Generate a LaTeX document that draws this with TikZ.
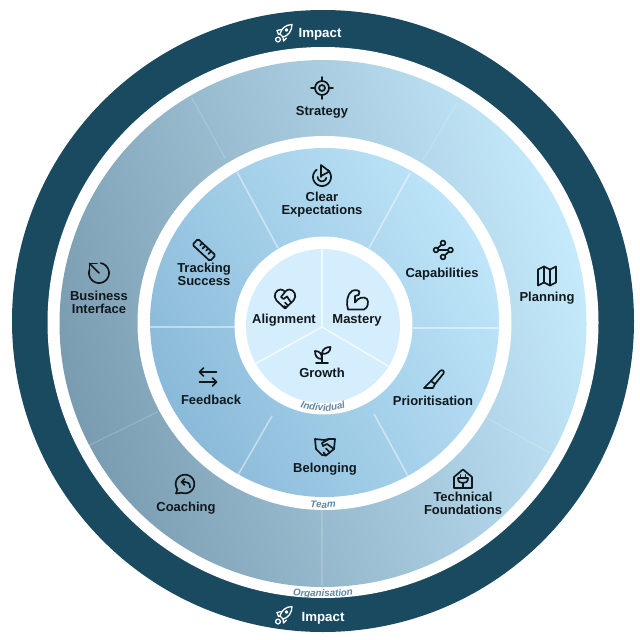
\documentclass[tikz,border=0pt]{standalone}
\usepackage{fontspec}
\usetikzlibrary{decorations.text}
\setmainfont{Liberation Sans}
\definecolor{ringdark}{HTML}{1A4A60}
\definecolor{coreblue}{HTML}{D5EEFD}
\definecolor{tagcol}{HTML}{5F87A3}
\definecolor{inkcol}{HTML}{11181C}
\definecolor{outerlight}{HTML}{C5EAFC}
\definecolor{outerdeep}{HTML}{7A9CB0}
\definecolor{midlight}{HTML}{BEE5F9}
\definecolor{middeep}{HTML}{8ABAD9}
\tikzset{
 lab/.style={font=\bfseries\fontsize{13}{13}\selectfont,align=center,text=inkcol,inner sep=0pt},
 imp/.style={font=\bfseries\fontsize{13.3}{13}\selectfont,text=white,inner sep=0pt},
 ico/.style={draw=inkcol,line width=1.7pt,line cap=round,line join=round,fill=none},
 icow/.style={draw=white,line width=1.3pt,line cap=round,line join=round,fill=none},
 spokeA/.style={draw=white,line width=1.2pt,opacity=.17},
 spokeB/.style={draw=white,line width=1.6pt,opacity=.45},
 spokeC/.style={draw=white,line width=1.6pt,opacity=.65}
}
\newcommand{\parc}[3]{plot[domain=#1:#2,samples=40] ({#3*cos(\x)},{#3*sin(\x)})}
\newcommand{\rocketicon}[2]{\begin{scope}[shift={(#1,#2)}]
 \draw[icow] (8,-8.5) .. controls (1,-8.5) and (-3,-3.5) .. (-4,1) -- (-1,4) .. controls (4,3) and (8,-2) .. (8,-8.5) -- cycle;
 \draw[icow] (2.5,-3) circle (1.2);
 \draw[icow] (-2.5,-3.5) -- (-7,-2.5) -- (-5.5,1.5) -- (-4,1);
 \draw[icow] (-1,4) -- (-0.5,8) -- (2.5,5);
 \draw[icow] (-6,6.5) circle (2.4);
\end{scope}}
\newcommand{\curvedtag}[4]{% text, centre y, radius, half angle
 \path[decorate,decoration={text along path,text align=center,
   text={|\bfseries\itshape\fontsize{9.8}{10}\selectfont\color{tagcol}|#1}}]
   plot[domain=90+#4:90-#4,samples=25] ({323+#3*cos(\x)},{#2+#3*sin(\x)});}
\begin{document}
\begin{tikzpicture}[x=1pt,y=-1pt]
\useasboundingbox (0,0) rectangle (640,640);
\fill[white] (0,0) rectangle (640,640);
% rings
\fill[ringdark] (323,321) circle (311);
\fill[white] (323,322.5) circle (275.5);
\shade[top color=outerlight,bottom color=outerdeep,shading angle=-73] (323,323.5) circle (263.5);
\fill[white] (324.5,323) circle (187);
\shade[top color=midlight,bottom color=middeep,shading angle=-62] (324.5,322.5) circle (174.5);
\fill[white] (323.5,325.5) circle (89);
\fill[coreblue] (323,326) circle (77);
% spokes: organisation ring
\draw[spokeA] (192,98) -- (225,158);
\draw[spokeA] (457,103) -- (423,160);
\draw[spokeA] (88,446) -- (157,412);
\draw[spokeA] (487,418) -- (550,453);
\draw[spokeA] (322,510) -- (322,586);
% spokes: team ring
\draw[spokeB] (237,172) -- (278,248);
\draw[spokeB] (410,173) -- (369,248);
\draw[spokeB] (149,327) -- (235,327);
\draw[spokeB] (413,328) -- (500,328);
\draw[spokeB] (272,416) -- (238,475);
\draw[spokeB] (374,414) -- (408,476);
% spokes: individual disc
\draw[spokeC] (322,249) -- (322,327);
\draw[spokeC] (322,327) -- (255,364);
\draw[spokeC] (322,327) -- (388,366);
% impact band
\node[imp] (impacttop) at (320,34) {Impact};
\node[imp] (impactbot) at (323,618.5) {Impact};
\rocketicon{284}{33}
\rocketicon{284}{615}
% labels
\node[lab] (strategy) at (322,112) {Strategy};
\node[lab] (clear) at (322,205) {Clear\\Expectations};
\node[lab] (capab) at (442,274) {Capabilities};
\node[lab] (planning) at (547,298.5) {Planning};
\node[lab] (prior) at (433,400.5) {Prioritisation};
\node[lab] (tracking) at (204,274) {Tracking\\Success};
\node[lab] (business) at (99,302.5) {Business\\Interface};
\node[lab] (feedback) at (211,400) {Feedback};
\node[lab] (belonging) at (325,469.5) {Belonging};
\node[lab] (coaching) at (186,508.5) {Coaching};
\node[lab] (technical) at (463,503) {Technical\\Foundations};
\node[lab] (alignment) at (284,320.5) {Alignment};
\node[lab] (mastery) at (357,320.5) {Mastery};
\node[lab] (growth) at (322,373) {Growth};
% curved ring names
\curvedtag{Individual}{325}{86}{40}
\curvedtag{Team}{325}{183}{12}
\curvedtag{Organisation}{325}{272}{17}
% icon: strategy
\begin{scope}[shift={(322,88)},ico]
 \draw (0,0) circle (7);
 \draw (0,0) circle (3);
 \draw (-11,0) -- (-7,0) (7,0) -- (11,0) (0,-11) -- (0,-7) (0,7) -- (0,11);
\end{scope}
% icon: clear expectations
\begin{scope}[shift={(322,175)},ico]
 \draw[shift={(0,2)}] \parc{-50}{235}{9};
 \draw[shift={(0,2)}] \parc{10}{180}{4.3};
 \draw (-1,2) -- (-1,-10) -- (7.5,-3.5) -- (-1,1);
\end{scope}
% icon: capabilities
\begin{scope}[shift={(443,250)},ico]
 \draw (0,-7) circle (2.4) (-7,0) circle (2.4) (7.5,0) circle (2.4) (0,7) circle (2.4);
 \draw (-4.6,0) -- (5.1,0);
 \draw (-1.6,-5.2) -- (-5.4,-1.8);
 \draw (5.8,1.7) -- (1.8,5.4);
\end{scope}
% icon: planning
\begin{scope}[shift={(547,276)},ico]
 \draw (-9,-6.5) -- (-3,-9.5) -- (3,-6.5) -- (9,-9.5) -- (9,6.5) -- (3,9.5) -- (-3,6.5) -- (-9,9.5) -- cycle;
 \draw (-3,-9.5) -- (-3,6.5) (3,-6.5) -- (3,9.5);
\end{scope}
% icon: prioritisation
\begin{scope}[shift={(434,379)},ico]
 \draw (-10,9) -- (-3,2) -- (6,-8) .. controls (8,-10) and (11,-8) .. (9.5,-5.5) -- (1,5) -- (-1,9) -- cycle;
 \draw (-3,2) -- (1,5);
\end{scope}
% icon: tracking success
\begin{scope}[shift={(204,250)},rotate=-43,ico]
 \draw[rounded corners=1.5pt] (-12,-4) rectangle (12,4);
 \draw (-6,-4) -- (-6,-1) (-2,-4) -- (-2,0) (2,-4) -- (2,-1) (6,-4) -- (6,0);
\end{scope}
% icon: business interface
\begin{scope}[shift={(99,273)},ico]
 \draw \parc{-80}{200}{10};
 \draw (0,0) -- (-9.5,-9.5);
 \draw (-9.5,-2.5) -- (-9.5,-9.5) -- (-2,-9.5);
\end{scope}
% icon: feedback
\begin{scope}[shift={(208,377)},ico]
 \draw (8.5,-5) -- (-8.5,-5) (-4.5,-9) -- (-8.5,-5) -- (-4.5,-1);
 \draw (-8.5,5) -- (8.5,5) (4.5,1) -- (8.5,5) -- (4.5,9);
\end{scope}
% icon: belonging
\begin{scope}[shift={(325,447)},ico]
 \draw (-10,-8) -- (-1,-7) -- (4,-8) -- (10,-8) -- (9,2) -- (1,8.5) -- (-3,8) -- (-9,2) -- cycle;
 \draw (4,-8) -- (-3,-4) -- (-2,-1) -- (2,-3) -- (9,2);
 \draw (4,4.5) -- (1,1.5) (1,8.5) -- (-1.5,5.5);
\end{scope}
% icon: coaching
\begin{scope}[shift={(185,484)},ico]
 \draw \parc{-215}{110}{9.3};
 \draw (-3.2,8.7) -- (-9,9.5) -- (-7.6,5.3);
 \draw (5,3.5) .. controls (5,-1) and (3,-2) .. (0,-2) -- (-3.5,-2);
 \draw (-0.5,-5) -- (-3.5,-2) -- (-0.5,1);
\end{scope}
% icon: technical foundations
\begin{scope}[shift={(463,479)},ico]
 \draw (-9,-2) -- (0,-9.5) -- (9,-2) -- (9,9) -- (-9,9) -- cycle;
 \draw (-2.5,-4) -- (-2.5,-1) (2.5,-4) -- (2.5,-1);
 \draw (-5,-1) -- (5,-1) .. controls (5,3) and (3,4) .. (0,4) .. controls (-3,4) and (-5,3) .. (-5,-1);
 \draw (0,4) -- (0,9);
\end{scope}
% icon: alignment
\begin{scope}[shift={(285,299)},ico]
 \draw (0,9.5) -- (-8.5,1.5) .. controls (-12.5,-3) and (-9,-9.5) .. (-4.5,-9.5) .. controls (-2.5,-9.5) and (-1,-8.5) .. (0,-7) .. controls (1,-8.5) and (2.5,-9.5) .. (4.5,-9.5) .. controls (9,-9.5) and (12.5,-3) .. (8.5,1.5) -- cycle;
 \draw (0,-7) -- (-4,-2) -- (-1.5,0) -- (2,-2.5) -- (6,3.5);
 \draw (3,6.5) -- (0,3.5) (1,9) -- (-0.5,7);
\end{scope}
% icon: mastery
\begin{scope}[shift={(357,300)},ico]
 \draw (-9,9.5) .. controls (-11,3) and (-10,-6) .. (-5,-9) .. controls (-2,-10.5) and (2,-10) .. (2.5,-8) .. controls (3,-5.5) and (1,-4) .. (-2,-4) -- (-2,2.5) .. controls (1,-2.5) and (7,-4) .. (10,-1) .. controls (12,2) and (11,8) .. (7,9.5) -- cycle;
\end{scope}
% icon: growth
\begin{scope}[shift={(322,355)},ico]
 \draw (0,8) -- (0,-2);
 \draw (-6,8) -- (6,8);
 \draw (0,4) .. controls (-5,4) and (-7,1) .. (-7,-4) .. controls (-3,-4) and (0,-2) .. (0,4);
 \draw (0,-1) .. controls (0,-6) and (4,-8) .. (8.5,-8) .. controls (8.5,-3) and (5,-1) .. (0,-1);
\end{scope}
\end{tikzpicture}
\end{document}
